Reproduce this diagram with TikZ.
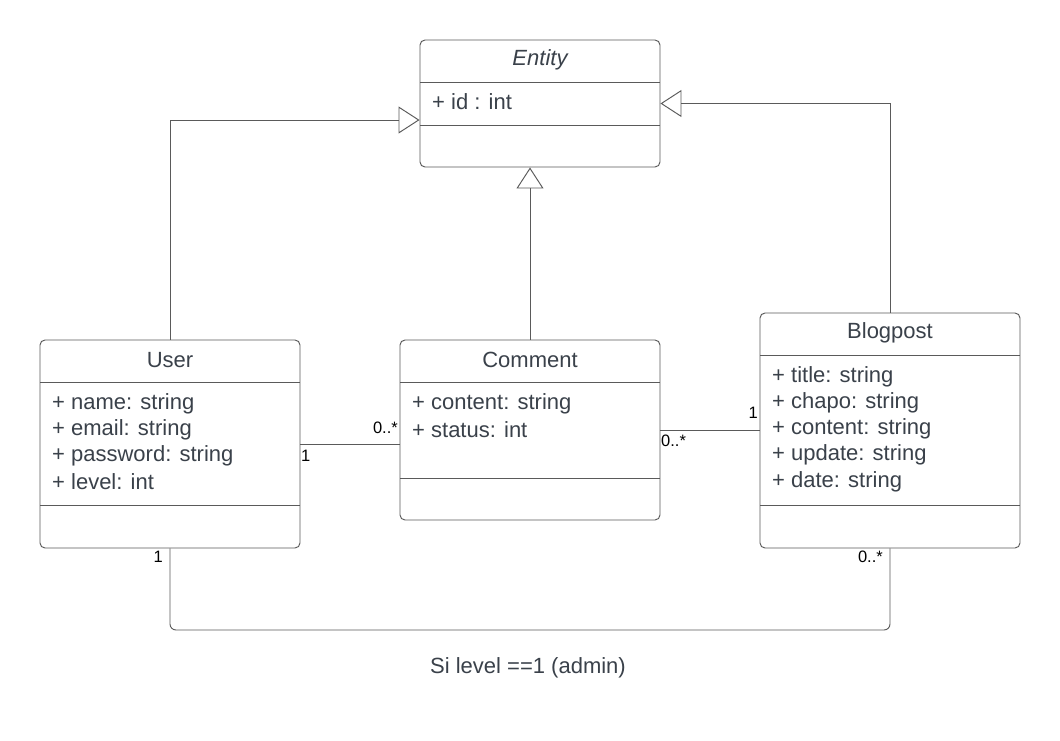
\documentclass[tikz,border=0pt]{standalone}
\usepackage{fontspec}
\setmainfont{Liberation Sans}
\usetikzlibrary{arrows.meta}
\definecolor{ln}{RGB}{90,90,90}
\definecolor{tx}{RGB}{58,65,74}
\begin{document}
\begin{tikzpicture}[x=1pt,y=-1pt,
  cls/.style={draw=ln, line width=0.95pt, rounded corners=5pt, rectangle, inner sep=0pt, fill=white},
  divline/.style={draw=ln, line width=0.95pt},
  title/.style={text=tx, font=\fontsize{22}{26}\selectfont, inner sep=0pt, anchor=center},
  attr/.style={text=tx, font=\fontsize{22}{26}\selectfont, inner sep=0pt, anchor=west},
  mult/.style={text=black, font=\fontsize{16.5}{19}\selectfont, inner sep=0pt},
  gen/.style={draw=ln, line width=0.95pt, -{Triangle[open, length=21pt, width=27pt]}},
  assoc/.style={draw=ln, line width=0.95pt}
]
\useasboundingbox (0,0) rectangle (1060,740);
\fill[white] (0,0) rectangle (1060,740);

% Entity
\node[cls, minimum width=240pt, minimum height=127pt] (entity) at (540,103.5) {};
\draw[divline] (420,82) -- (660,82);
\draw[divline] (420,125) -- (660,125);
\node[title, font=\fontsize{22}{26}\selectfont\itshape] (entityT) at (540,60) {Entity};
\node[attr] (entityA1) at (432,102) {+ id : int};

% User
\node[cls, minimum width=260pt, minimum height=208pt] (user) at (170,444) {};
\draw[divline] (40,382) -- (300,382);
\draw[divline] (40,505) -- (300,505);
\node[title] (userT) at (170,360) {User};
\node[attr] (userA1) at (52,403.5) {+ name: string};
\node[attr] (userA2) at (52,429.5) {+ email: string};
\node[attr] (userA3) at (52,455.5) {+ password: string};
\node[attr] (userA4) at (52,481.5) {+ level: int};

% Comment
\node[cls, minimum width=260pt, minimum height=180pt] (comment) at (530,430) {};
\draw[divline] (400,382) -- (660,382);
\draw[divline] (400,478) -- (660,478);
\node[title] (commentT) at (530,360) {Comment};
\node[attr] (commentA1) at (412,403.5) {+ content: string};
\node[attr] (commentA2) at (412,429.5) {+ status: int};

% Blogpost
\node[cls, minimum width=260pt, minimum height=235pt] (blog) at (890,430.5) {};
\draw[divline] (760,355) -- (1020,355);
\draw[divline] (760,505) -- (1020,505);
\node[title] (blogT) at (890,333) {Blogpost};
\node[attr] (blogA1) at (772,376.5) {+ title: string};
\node[attr] (blogA2) at (772,402.5) {+ chapo: string};
\node[attr] (blogA3) at (772,428.5) {+ content: string};
\node[attr] (blogA4) at (772,455) {+ update: string};
\node[attr] (blogA5) at (772,481.5) {+ date: string};

% Generalisations
\draw[gen] (user.north) |- ([yshift=-16.5pt]entity.west);
\draw[gen] (comment.north) -- (comment.north |- entity.south);
\draw[gen] (blog.north) |- (entity.east);

% Associations
\draw[assoc] (user.east) -- (comment.west |- user.east);
\draw[assoc] (comment.east) -- (blog.west |- comment.east);
\draw[assoc, rounded corners=6pt] (user.south) -- (170,630) -| (blog.south);

% Multiplicities
\node[mult, anchor=west] (m1) at (301,456) {1};
\node[mult, anchor=east] (m2) at (398,428) {0..*};
\node[mult, anchor=west] (m3) at (661,441) {0..*};
\node[mult, anchor=east] (m4) at (758,413) {1};
\node[mult, anchor=east] (m5) at (163,557) {1};
\node[mult, anchor=east] (m6) at (883,557) {0..*};

% Note
\node[text=tx, font=\fontsize{22}{26}\selectfont, inner sep=0pt] (note) at (528,668) {Si level ==1 (admin)};
\end{tikzpicture}
\end{document}
